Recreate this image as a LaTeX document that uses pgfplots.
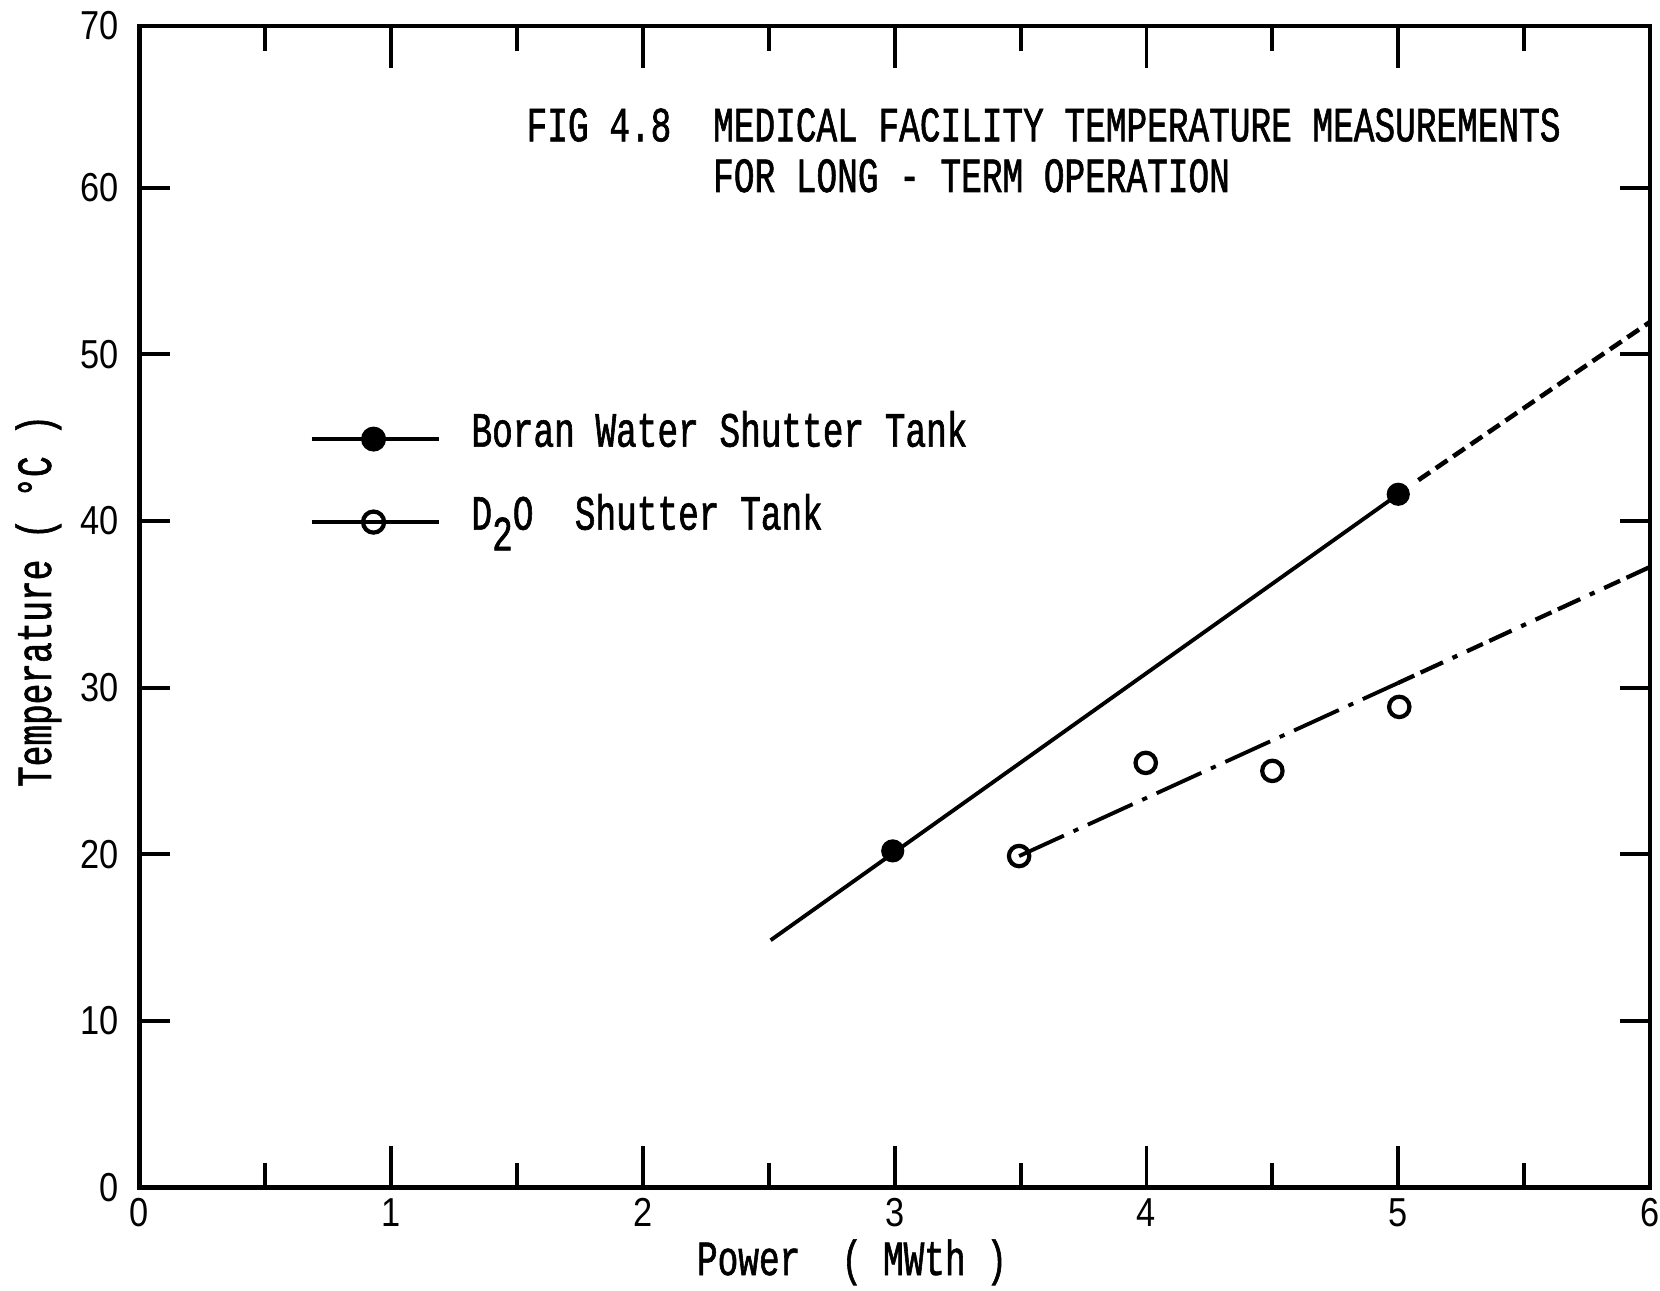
\documentclass[border=0pt]{standalone}
\usepackage{fontspec}
\usepackage{pgfplots}
\pgfplotsset{compat=1.18}
\newfontfamily\tw[FakeStretch=0.70,FakeBold=1.2]{Liberation Mono}
\newfontfamily\tickfont[FakeStretch=0.85]{Liberation Sans}
\newcommand\twf{\tw\fontsize{14}{16}\selectfont}
\begin{document}
\begin{tikzpicture}
\begin{axis}[
  scale only axis,
  width=15.105cm, height=11.615cm,
  at={(0,0)}, anchor=south west,
  xmin=0, xmax=6, ymin=0, ymax=69.7,
  xtick={0,1,...,6},
  ytick={69.7}, yticklabels={70},
  extra y ticks={0,10,...,60},
  extra y tick style={major tick length=0.3cm},
  minor x tick num=1,
  tick align=inside,
  major tick length=0.42cm, minor tick length=0.25cm,
  every tick/.style={black, line width=1.1pt},
  axis line style={line width=1.3pt},
  /pgf/number format/assume math mode=true,
  ticklabel style={font=\tickfont\fontsize{11.5}{13}\selectfont},
  yticklabel style={inner sep=0pt, anchor=east, xshift=-0.2cm},
  xticklabel style={inner sep=0pt, anchor=north, yshift=-0.1cm},
  xlabel={Power\ \ ( MWth )},
  xlabel style={font=\twf, at={(axis description cs:0.4717,0)}, anchor=base, yshift=-0.875cm},
  ylabel={Temperature ( °C )},
  ylabel style={font=\twf, at={([xshift=-0.885cm]axis description cs:0,0.505)}, anchor=base},
  legend style={draw=none, fill=none, inner sep=0pt, at={(axis cs:0.673,46.3)}, anchor=north west,
    row sep=0.43cm, column sep=0.31cm, font=\twf,
    nodes={inner sep=0pt, text height=0.3cm, text depth=0.1cm, anchor=mid west}},
  legend image code/.code={\draw[mark repeat=2,mark phase=2,#1] plot coordinates {(0cm,0cm) (0.62cm,0cm) (1.27cm,0cm)};},
]
% Boran water shutter tank
\addplot[black, line width=1.1pt, forget plot] coordinates {(2.507,14.84) (5,41.6)};
\addplot[black, line width=1.3pt, dash pattern=on 4pt off 2pt, forget plot] coordinates {(5.08,42.45) (6,51.94)};
\addplot[black, only marks, mark=*, mark size=3.1pt, forget plot] coordinates {(2.992,20.2) (5.0,41.6)};
% D2O shutter tank
\addplot[black, line width=1.1pt, dash pattern=on 14pt off 3pt on 1.5pt off 3pt, forget plot] coordinates {(3.494,19.89) (5.0,30.28)};
\addplot[black, line width=1.2pt, dash pattern=on 5pt off 2pt on 7pt off 3pt on 1.5pt off 3pt, forget plot] coordinates {(5.0,30.28) (6,37.24)};
\addplot[black, only marks, mark=o, mark size=2.9pt, mark options={line width=1.2pt, fill=white}, forget plot] coordinates {(3.494,19.89) (3.997,25.48) (4.5,25.0) (5.004,28.84)};
% legend
\addlegendimage{black, line width=1.1pt, mark=*, mark size=3pt}
\addlegendentry{Boran Water Shutter Tank}
\addlegendimage{black, line width=1.1pt, mark=o, mark size=3pt, mark options={fill=white, line width=1.2pt}}
\addlegendentry{D\raisebox{-0.42em}{2}O\ \ Shutter Tank}
% title
\node[anchor=base west, font=\twf, inner sep=0pt] at (axis cs:1.535,62.78) {FIG 4.8};
\node[anchor=base west, font=\twf, inner sep=0pt] at (axis cs:2.276,62.78) {MEDICAL FACILITY TEMPERATURE MEASUREMENTS};
\node[anchor=base west, font=\twf, inner sep=0pt] at (axis cs:2.276,59.74) {FOR LONG - TERM OPERATION};
\end{axis}
\pgfresetboundingbox
\path[use as bounding box] (-1.395cm,-1.025cm) rectangle (15.205cm,11.875cm);
\end{tikzpicture}
\end{document}
